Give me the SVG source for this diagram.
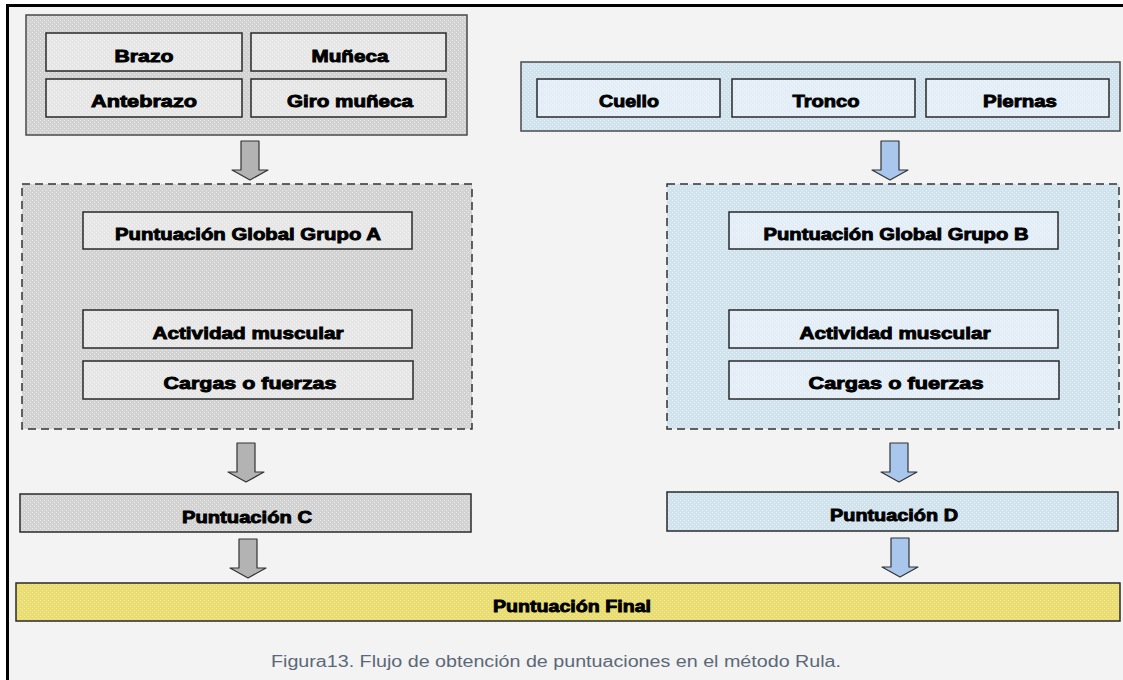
<svg xmlns="http://www.w3.org/2000/svg" width="1123" height="680" viewBox="0 0 1123 680">
  <defs>
    <!-- dotted textures for box fills -->
    <pattern id="texGray" width="4" height="4" patternUnits="userSpaceOnUse">
      <rect width="4" height="4" fill="#d2d2d2"/>
      <path d="M0 0h1v1H0zM2 2h1v1H2z" fill="#ececec"/>
    </pattern>
    <pattern id="texGrayLight" width="4" height="4" patternUnits="userSpaceOnUse">
      <rect width="4" height="4" fill="#e6e6e6"/>
      <path d="M0 0h1v1H0zM2 2h1v1H2z" fill="#f4f4f4"/>
    </pattern>
    <pattern id="texBlue" width="4" height="4" patternUnits="userSpaceOnUse">
      <rect width="4" height="4" fill="#cfe2ee"/>
      <path d="M0 0h1v1H0zM2 2h1v1H2z" fill="#eef5fa"/>
    </pattern>
    <pattern id="texBlueLight" width="4" height="4" patternUnits="userSpaceOnUse">
      <rect width="4" height="4" fill="#e2edf8"/>
      <path d="M0 0h1v1H0zM2 2h1v1H2z" fill="#f2f7fc"/>
    </pattern>
    <pattern id="texYellow" width="4" height="4" patternUnits="userSpaceOnUse">
      <rect width="4" height="4" fill="#e9dc72"/>
      <path d="M0 0h1v1H0zM2 2h1v1H2z" fill="#f6ee9e"/>
    </pattern>
  </defs>
  <style>
    .box { stroke: #2a2a2a; stroke-width: 1.5; }
    .outer { stroke: #4a4a4a; stroke-width: 1.5; }
    .dash { stroke: #333; stroke-width: 1.5; stroke-dasharray: 8 5; }
    .lbl { font-family: "Liberation Sans", Arial, sans-serif; font-weight: bold; font-size: 17px; fill: #000; stroke: #000; stroke-width: 0.9; text-anchor: middle; }
    .arrG { fill: #b3b3b3; stroke: #333; stroke-width: 1.2; stroke-linejoin: round; }
    .arrB { fill: #a9c7ec; stroke: #333; stroke-width: 1.2; stroke-linejoin: round; }
    .cap { font-family: "Liberation Sans", Arial, sans-serif; font-size: 16px; fill: #5c6877; text-anchor: middle; }
  </style>

  <!-- page background and frame -->
  <rect width="1123" height="680" fill="#ffffff"/>
  <rect x="7" y="5" width="1116" height="675" fill="#f3f3f3"/>
  <path d="M7.5 680V5.5H1123" fill="none" stroke="#000" stroke-width="3"/>

  <!-- Group A: upper limb -->
  <g id="grupoA">
    <rect class="outer" x="26" y="15" width="441" height="120" fill="url(#texGray)"/>
    <g id="brazo">
      <rect class="box" x="46" y="33" width="196" height="38" fill="url(#texGrayLight)"/>
      <text class="lbl" x="144" y="62" textLength="59" lengthAdjust="spacingAndGlyphs">Brazo</text>
    </g>
    <g id="muneca">
      <rect class="box" x="251" y="33" width="195" height="38" fill="url(#texGrayLight)"/>
      <text class="lbl" x="350" y="62" textLength="77" lengthAdjust="spacingAndGlyphs">Muñeca</text>
    </g>
    <g id="antebrazo">
      <rect class="box" x="46" y="79" width="196" height="38" fill="url(#texGrayLight)"/>
      <text class="lbl" x="144" y="107" textLength="106" lengthAdjust="spacingAndGlyphs">Antebrazo</text>
    </g>
    <g id="giro-muneca">
      <rect class="box" x="251" y="79" width="195" height="38" fill="url(#texGrayLight)"/>
      <text class="lbl" x="350" y="107" textLength="126" lengthAdjust="spacingAndGlyphs">Giro muñeca</text>
    </g>
  </g>

  <!-- Group B: neck, trunk, legs -->
  <g id="grupoB">
    <rect class="outer" x="521" y="62" width="599" height="69" fill="url(#texBlue)"/>
    <g id="cuello">
      <rect class="box" x="537" y="79" width="183" height="38" fill="url(#texBlueLight)"/>
      <text class="lbl" x="629" y="107" textLength="60" lengthAdjust="spacingAndGlyphs">Cuello</text>
    </g>
    <g id="tronco">
      <rect class="box" x="732" y="79" width="183" height="38" fill="url(#texBlueLight)"/>
      <text class="lbl" x="826" y="107" textLength="67" lengthAdjust="spacingAndGlyphs">Tronco</text>
    </g>
    <g id="piernas">
      <rect class="box" x="926" y="79" width="183" height="38" fill="url(#texBlueLight)"/>
      <text class="lbl" x="1020" y="107" textLength="74" lengthAdjust="spacingAndGlyphs">Piernas</text>
    </g>
  </g>

  <!-- Score block A -->
  <g id="bloqueA">
    <rect class="dash" x="22" y="184" width="450" height="245" fill="url(#texGray)"/>
    <g id="global-a">
      <rect class="box" x="83" y="212" width="329" height="37" fill="url(#texGrayLight)"/>
      <text class="lbl" x="248" y="240" textLength="266" lengthAdjust="spacingAndGlyphs">Puntuación Global Grupo A</text>
    </g>
    <g id="actividad-a">
      <rect class="box" x="83" y="310" width="329" height="38" fill="url(#texGrayLight)"/>
      <text class="lbl" x="248" y="339" textLength="191" lengthAdjust="spacingAndGlyphs">Actividad muscular</text>
    </g>
    <g id="cargas-a">
      <rect class="box" x="83" y="361" width="330" height="38" fill="url(#texGrayLight)"/>
      <text class="lbl" x="250" y="389" textLength="173" lengthAdjust="spacingAndGlyphs">Cargas o fuerzas</text>
    </g>
  </g>

  <!-- Score block B -->
  <g id="bloqueB">
    <rect class="dash" x="667" y="184" width="452" height="245" fill="url(#texBlue)"/>
    <g id="global-b">
      <rect class="box" x="729" y="212" width="329" height="37" fill="url(#texBlueLight)"/>
      <text class="lbl" x="896" y="240" textLength="265" lengthAdjust="spacingAndGlyphs">Puntuación Global Grupo B</text>
    </g>
    <g id="actividad-b">
      <rect class="box" x="729" y="310" width="329" height="38" fill="url(#texBlueLight)"/>
      <text class="lbl" x="895" y="339" textLength="191" lengthAdjust="spacingAndGlyphs">Actividad muscular</text>
    </g>
    <g id="cargas-b">
      <rect class="box" x="729" y="361" width="330" height="38" fill="url(#texBlueLight)"/>
      <text class="lbl" x="896" y="389" textLength="175" lengthAdjust="spacingAndGlyphs">Cargas o fuerzas</text>
    </g>
  </g>

  <g id="puntuacion-c">
    <rect class="box" x="20" y="494" width="451" height="38" fill="url(#texGray)"/>
    <text class="lbl" x="247" y="523" textLength="130" lengthAdjust="spacingAndGlyphs">Puntuación C</text>
  </g>

  <g id="puntuacion-d">
    <rect class="box" x="667" y="492" width="451" height="39" fill="url(#texBlue)"/>
    <text class="lbl" x="894" y="521" textLength="128" lengthAdjust="spacingAndGlyphs">Puntuación D</text>
  </g>

  <g id="puntuacion-final">
    <rect class="box" x="16" y="583" width="1104" height="38" fill="url(#texYellow)"/>
    <text class="lbl" x="572" y="612" textLength="158" lengthAdjust="spacingAndGlyphs">Puntuación Final</text>
  </g>

  <!-- block arrows between stages -->
  <g id="connectors">
    <polygon class="arrG" points="241,141 259,141 259,170 268,170 250,180 232,170 241,170"/>
    <polygon class="arrB" points="881,141 899,141 899,170 908,170 890,180 872,170 881,170"/>
    <polygon class="arrG" points="237,443 255,443 255,472 264,472 246,482 228,472 237,472"/>
    <polygon class="arrB" points="890,443 908,443 908,472 917,472 899,482 881,472 890,472"/>
    <polygon class="arrG" points="239,539 257,539 257,568 266,568 248,578 230,568 239,568"/>
    <polygon class="arrB" points="891,538 909,538 909,567 918,567 900,577 882,567 891,567"/>
  </g>

  <text class="cap" x="556" y="667" textLength="570" lengthAdjust="spacingAndGlyphs">Figura13. Flujo de obtención de puntuaciones en el método Rula.</text>
</svg>
